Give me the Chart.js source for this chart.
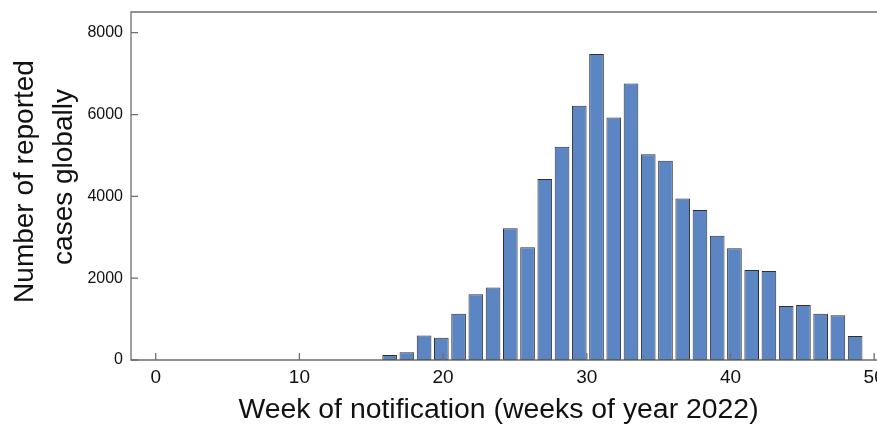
<!DOCTYPE html>
<html>
<head>
<meta charset="utf-8">
<script src="https://cdn.jsdelivr.net/npm/chart.js@4/dist/chart.umd.min.js"></script>
<style>
  html, body { margin: 0; padding: 0; background: #fff; overflow: hidden; }
  #wrap { width: 900px; height: 425px; }
</style>
</head>
<body>
<div id="wrap"><canvas id="chart" width="900" height="425"></canvas></div>
<script>
// Weekly reported cases (weeks of 2022)
const weeks = [16, 17, 18, 19, 20, 21, 22, 23, 24, 25, 26, 27, 28, 29,
               30, 31, 32, 33, 34, 35, 36, 37, 38, 39, 40, 41, 42, 43];
const cases = [120, 190, 600, 545, 1130, 1605, 1770, 3220, 2755, 4425, 5215, 6215, 7480, 5930,
               6760, 5030, 4870, 3950, 3665, 3040, 2730, 2200, 2175, 1320, 1345, 1130, 1095, 585];

// Axis ticks
const xTickValues = [0, 10, 20, 30, 40, 50];
const yTickValues = [0, 2000, 4000, 6000, 8000];

const FONT = '"Liberation Sans", Arial, Helvetica, sans-serif';
const AXIS_COLOR = '#6e6e6e';

// Frame, inward tick marks and axis titles
const framePlugin = {
  id: 'frame',
  afterDatasetsDraw(chart) {
    const { ctx, chartArea: a, scales } = chart;
    ctx.save();
    ctx.strokeStyle = AXIS_COLOR;
    ctx.lineWidth = 1.3;
    ctx.beginPath();
    ctx.moveTo(chart.width, a.top);
    ctx.lineTo(a.left, a.top);
    ctx.lineTo(a.left, a.bottom);
    ctx.lineTo(chart.width, a.bottom);
    ctx.stroke();
    ctx.beginPath();
    xTickValues.forEach(v => {
      const px = scales.x.getPixelForValue(v);
      ctx.moveTo(px, a.bottom);
      ctx.lineTo(px, a.bottom - 7);
    });
    yTickValues.forEach(v => {
      const py = scales.y.getPixelForValue(v);
      ctx.moveTo(a.left, py);
      ctx.lineTo(a.left + 7, py);
    });
    ctx.stroke();
    ctx.restore();
  },
  afterDraw(chart) {
    const { ctx } = chart;
    ctx.save();
    ctx.fillStyle = '#111';
    ctx.font = '28.4px ' + FONT;
    ctx.textAlign = 'center';
    ctx.textBaseline = 'alphabetic';
    ctx.fillText('Week of notification (weeks of year 2022)', 498.5, 418);
    ctx.font = '28px ' + FONT;
    ctx.save();
    ctx.translate(33.3, 181.5);
    ctx.rotate(-Math.PI / 2);
    ctx.fillText('Number of reported', 0, 0);
    ctx.restore();
    ctx.save();
    ctx.translate(71.7, 177);
    ctx.rotate(-Math.PI / 2);
    ctx.fillText('cases globally', 0, 0);
    ctx.restore();
    ctx.restore();
  }
};

new Chart(document.getElementById('chart'), {
  type: 'bar',
  data: {
    datasets: [{
      data: weeks.map((w, i) => ({ x: w, y: cases[i] })),
      xAxisID: 'xb',
      yAxisID: 'y',
      backgroundColor: '#5b86c3',
      borderColor: '#2f2f2f',
      borderWidth: 1,
      borderSkipped: false,
      barPercentage: 0.85,
      categoryPercentage: 1
    }]
  },
  options: {
    responsive: false,
    devicePixelRatio: 1,
    animation: false,
    layout: { padding: { top: 12, right: 4, bottom: 0, left: 0 } },
    plugins: { legend: { display: false }, tooltip: { enabled: false } },
    scales: {
      x: {
        type: 'linear',
        position: 'bottom',
        offset: false,
        min: -1.72,
        max: 51.52,
        grid: { display: false, drawTicks: false, offset: false },
        border: { display: false },
        afterBuildTicks: s => { s.ticks = xTickValues.map(v => ({ value: v })); },
        afterFit: s => { s.height = 65; s.paddingLeft = 0; s.paddingRight = 0; },
        ticks: {
          autoSkip: false,
          maxRotation: 0,
          padding: 6,
          color: '#111',
          font: { family: FONT, size: 19 },
          callback: v => String(v)
        }
      },
      xb: {
        type: 'linear',
        display: false,
        offset: false,
        grid: { offset: false },
        min: 1.0,
        max: 45.37
      },
      y: {
        type: 'linear',
        min: 0,
        max: 8506,
        grid: { display: false, drawTicks: false },
        border: { display: false },
        afterBuildTicks: s => { s.ticks = yTickValues.map(v => ({ value: v })); },
        afterFit: s => { s.width = 131; s.paddingTop = 0; s.paddingBottom = 0; },
        ticks: {
          padding: 8,
          color: '#111',
          font: { family: FONT, size: 16 },
          callback: v => String(v)
        }
      }
    }
  },
  plugins: [framePlugin]
});
</script>
</body>
</html>
